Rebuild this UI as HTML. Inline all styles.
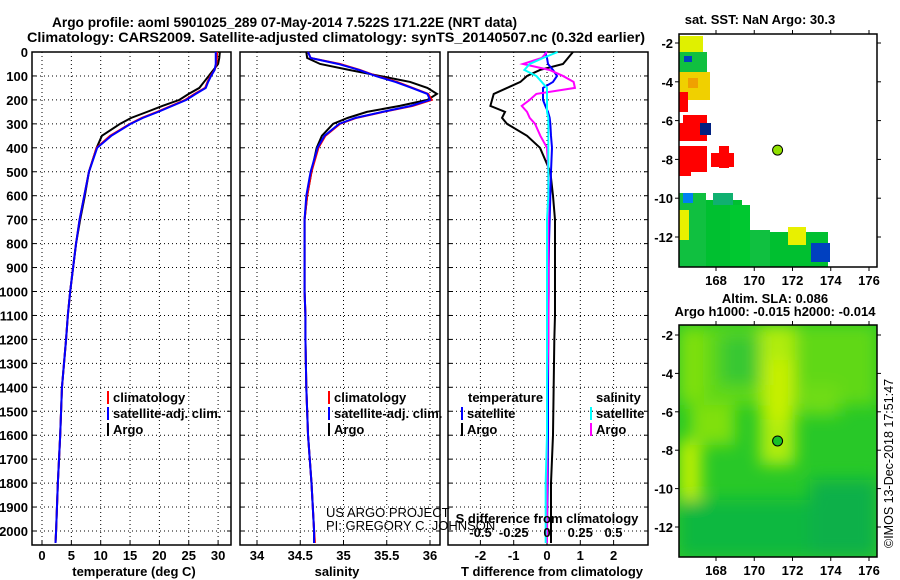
<!DOCTYPE html>
<html><head><meta charset="utf-8"><style>
body{margin:0;background:#fff;width:900px;height:580px;overflow:hidden}
svg{display:block;font-family:"Liberation Sans",sans-serif;font-weight:bold}
</style></head><body>
<svg id="c" width="900" height="580">
<text x="52" y="27" font-size="14" textLength="465" lengthAdjust="spacingAndGlyphs">Argo profile: aoml 5901025_289 07-May-2014 7.522S 171.22E (NRT data)</text>
<text x="27" y="42" font-size="14" textLength="618" lengthAdjust="spacingAndGlyphs">Climatology: CARS2009. Satellite-adjusted climatology: synTS_20140507.nc (0.32d earlier)</text>
<text x="760" y="24" font-size="13" text-anchor="middle">sat. SST: NaN Argo: 30.3</text>
<text x="775" y="303" font-size="13" text-anchor="middle">Altim. SLA: 0.086</text>
<text x="775" y="316" font-size="13" text-anchor="middle">Argo h1000: -0.015 h2000: -0.014</text>
<text transform="translate(893,548) rotate(-90)" font-size="12.5" font-weight="normal">©IMOS 13-Dec-2018 17:51:47</text>
<g id="plots"></g>
</svg>
<script>
const depths=[0,25,50,75,100,125,150,175,200,225,250,275,300,350,400,500,600,700,800,900,1000,1100,1200,1400,1600,1800,2000,2050];
const tArgo=[30.3,30.2,30.0,29.2,28.4,27.6,26.8,25.0,23.4,20.5,17.9,15.2,13.3,10.2,9.3,8.0,7.3,6.5,5.8,5.3,4.8,4.4,4.1,3.4,3.1,2.7,2.4,2.3];
const tClim=[29.8,29.8,29.7,29.4,28.7,28.2,27.8,26.0,24.4,22.0,19.6,17.0,15.0,11.6,9.3,8.0,7.2,6.4,5.8,5.3,4.8,4.4,4.1,3.4,3.1,2.7,2.4,2.3];
const tSat=[29.6,29.6,29.6,29.4,28.8,28.3,27.9,26.2,24.6,22.2,19.8,17.2,15.1,11.8,9.4,8.0,7.2,6.4,5.8,5.3,4.8,4.4,4.1,3.4,3.1,2.7,2.4,2.3];
const sArgo=[34.57,34.58,34.73,35.07,35.42,35.77,35.97,36.08,35.97,35.65,35.27,35.05,34.88,34.75,34.69,34.63,34.58,34.55,34.55,34.55,34.55,34.56,34.56,34.57,34.59,34.63,34.66,34.66];
const sClim=[34.59,34.62,34.96,35.19,35.38,35.62,35.80,35.98,36.02,35.80,35.46,35.15,34.96,34.79,34.71,34.63,34.58,34.55,34.55,34.55,34.55,34.56,34.56,34.57,34.59,34.63,34.66,34.67];
const sSat=[34.59,34.62,34.94,35.18,35.37,35.60,35.79,35.97,36.00,35.78,35.45,35.14,34.95,34.78,34.70,34.62,34.57,34.55,34.55,34.55,34.55,34.56,34.56,34.57,34.59,34.63,34.66,34.66];
const dtArgo=[0.78,0.63,0.48,-0.21,-0.6,-0.8,-1.2,-1.6,-1.65,-1.7,-1.26,-1.35,-1.2,-0.6,-0.21,0.1,0.18,0.24,0.24,0.24,0.24,0.24,0.22,0.2,0.18,0.12,0.12,0.12];
const dtSat=[-0.06,0.0,0.03,0.18,0.3,0.18,-0.12,-0.12,-0.12,-0.05,0.03,0.08,0.1,0.12,0.15,0.12,0.1,0.08,0.06,0.05,0.05,0.04,0.04,0.03,0.03,0.02,0.0,0.0];
const dsArgo=[0,-0.04,-0.18,0.02,0.12,0.2,0.21,-0.08,-0.13,-0.19,-0.15,-0.13,-0.09,-0.05,0,0.01,0.01,0.01,0.01,0.01,0.01,0.01,0.01,0.0,0.0,0.0,0.0,0.0];
const dsSat=[0.08,-0.03,-0.13,-0.17,-0.08,-0.04,0,0,0,0,0,0.01,0.01,0.01,0.01,0.01,0.01,0.0,0.0,0.0,0.0,0,0,0,0,-0.01,-0.01,-0.01];
const depthTicks=[0,100,200,300,400,500,600,700,800,900,1000,1100,1200,1300,1400,1500,1600,1700,1800,1900,2000];
const tempTicks=[0,5,10,15,20,25,30];
const salTicks=[34,34.5,35,35.5,36];
const dtTicks=[-2,-1,0,1,2];
const dsTicks=[-0.5,-0.25,0,0.25,0.5];

const NS='http://www.w3.org/2000/svg';
const root=document.getElementById('plots');
function mk(tag,attrs,parent){const e=document.createElementNS(NS,tag);for(const k in attrs)e.setAttribute(k,attrs[k]);(parent||root).appendChild(e);return e;}
const yD=d=>52+d*0.2395;
const PB=545;
const xT=v=>42+v*5.87;
const xS=v=>257+(v-34)*86.5;
const xDT=v=>547+v*33.3;
const xDS=v=>547+v*133;
function txt(g,x,y,s,opt){const t=mk('text',Object.assign({x:x,y:y,'font-size':13},opt||{}),g);t.textContent=s;return t;}

function panel(name,x0,x1,ticks,xf){
  const g=mk('g',{});
  
  
  ticks.forEach(t=>{const x=xf(t);mk('line',{x1:x,x2:x,y1:52,y2:PB,stroke:'#000','stroke-dasharray':'1,3'},g);
    mk('line',{x1:x,x2:x,y1:PB,y2:PB-4,stroke:'#000'},g);
    txt(g,x,560,String(t),{'text-anchor':'middle'});});
  depthTicks.forEach(d=>{const y=yD(d);mk('line',{x1:x0,x2:x1,y1:y,y2:y,stroke:'#000','stroke-dasharray':'1,3'},g);
    mk('line',{x1:x0,x2:x0+4,y1:y,y2:y,stroke:'#000'},g);mk('line',{x1:x1-4,x2:x1,y1:y,y2:y,stroke:'#000'},g);});
  mk('rect',{x:x0,y:52,width:x1-x0,height:PB-52,fill:'none',stroke:'#000','stroke-width':1.5},g);
  return g;
}
function line(g,vals,xf,color,name){
  const p=mk('polyline',{points:vals.map((v,i)=>xf(v)+','+yD(depths[i])).join(' '),fill:'none',stroke:color,'stroke-width':2},g);
  
  
}
function leg(g,x,y,color,label,name){
  const l=mk('g',{},g);
  
  
  mk('rect',{x:x,y:y-11,width:2,height:13,fill:color},l);
  txt(l,x+6,y,label,{'font-size':13});
}

// panel 1
const g1=panel('temperature-panel',32,231,tempTicks,xT);
depthTicks.forEach(d=>{txt(g1,28,yD(d)+5,String(d),{'text-anchor':'end'});});
line(g1,tArgo,xT,'#000','temperature-argo-line');
line(g1,tClim,xT,'#f00','temperature-climatology-line');
line(g1,tSat,xT,'#00f','temperature-satellite-line');
txt(g1,134,576,'temperature (deg C)',{'text-anchor':'middle'});
leg(g1,107,402,'#f00','climatology','legend-climatology');
leg(g1,107,418,'#00f','satellite-adj. clim.','legend-satellite');
leg(g1,107,434,'#000','Argo','legend-argo');

// panel 2
const g2=panel('salinity-panel',240,440,salTicks,xS);
line(g2,sArgo,xS,'#000','salinity-argo-line');
line(g2,sClim,xS,'#f00','salinity-climatology-line');
line(g2,sSat,xS,'#00f','salinity-satellite-line');
txt(g2,337,576,'salinity',{'text-anchor':'middle'});
leg(g2,328,402,'#f00','climatology','legend-climatology');
leg(g2,328,418,'#00f','satellite-adj. clim.','legend-satellite');
leg(g2,328,434,'#000','Argo','legend-argo');
txt(g2,326,517,'US ARGO PROJECT',{'font-weight':'normal'});
txt(g2,326,530,'PI: GREGORY C. JOHNSON',{'font-weight':'normal'});

// panel 3
const g3=panel('difference-panel',448,648,dtTicks,xDT);
line(g3,dtArgo,xDT,'#000','t-diff-argo-line');
line(g3,dtSat,xDT,'#00f','t-diff-satellite-line');
line(g3,dsArgo,xDS,'#f0f','s-diff-argo-line');
line(g3,dsSat,xDS,'#0ff','s-diff-satellite-line');
txt(g3,547,523,'S difference from climatology',{'text-anchor':'middle'});
dsTicks.forEach(t=>txt(g3,xDS(t),537,String(t),{'text-anchor':'middle'}));
txt(g3,552,576,'T difference from climatology',{'text-anchor':'middle'});
txt(g3,468,402,'temperature');
leg(g3,461,418,'#00f','satellite','legend-t-satellite');
leg(g3,461,434,'#000','Argo','legend-t-argo');
txt(g3,596,402,'salinity');
leg(g3,590,418,'#0ff','satellite','legend-s-satellite');
leg(g3,590,434,'#f0f','Argo','legend-s-argo');

// maps
const lonTicks=[168,170,172,174,176];
const latTicks=[-2,-4,-6,-8,-10,-12];
const mx=lon=>716+(lon-168)*19.125;
const myA=lat=>43+(-2-lat)*19.4;
const myB=lat=>335+(-2-lat)*19.2;
function axes(g,top,bot,myf,labY){
  mk('rect',{x:679,y:top,width:198,height:bot-top,fill:'none',stroke:'#000','stroke-width':1.5},g);
  lonTicks.forEach(l=>{const x=mx(l);mk('line',{x1:x,x2:x,y1:top,y2:top-4,stroke:'#000'},g);mk('line',{x1:x,x2:x,y1:bot,y2:bot+4,stroke:'#000'},g);txt(g,x,labY,String(l),{'text-anchor':'middle'});});
  latTicks.forEach(l=>{const y=myf(l);mk('line',{x1:675,x2:679,y1:y,y2:y,stroke:'#000'},g);mk('line',{x1:877,x2:881,y1:y,y2:y,stroke:'#000'},g);txt(g,673,y+5,String(l),{'text-anchor':'end'});});
}
// SST map
const gA=mk('g',{});


const patches=[[679,36,24,16,'#e0f000'],[679,52,28,20,'#10c040'],[684,56,8,6,'#0040c0'],[679,72,31,28,'#f0d000'],[688,78,10,10,'#f0a000'],
[679,92,9,20,'#f00'],[683,115,24,25,'#f00'],[679,123,28,18,'#f00'],[700,123,11,12,'#002080'],[679,146,28,26,'#f00'],[679,168,12,8,'#f00'],[711,153,23,14,'#f00'],[719,146,10,22,'#f00'],
[679,193,27,74,'#10c040'],[706,200,36,67,'#00c030'],[713,193,20,12,'#10b070'],[730,205,20,62,'#00c830'],[750,230,20,37,'#10c040'],[770,232,58,35,'#00c030'],[788,227,18,18,'#e8f000'],[811,243,19,19,'#0040c0'],[679,210,10,30,'#e8f000'],[683,193,10,10,'#0080f0']];
patches.forEach(p=>mk('rect',{x:p[0],y:p[1],width:p[2],height:p[3],fill:p[4]},gA));
mk('circle',{cx:mx(171.22),cy:myA(-7.52),r:5,fill:'#90e000',stroke:'#000'},gA);
axes(gA,34,267,myA,285);
// SLA map
const gB=mk('g',{});


const defs=mk('defs',{},gB);
const f=mk('filter',{id:'bl',x:'-50%',y:'-50%',width:'200%',height:'200%'},defs);
mk('feGaussianBlur',{stdDeviation:8},f);
const cp=mk('clipPath',{id:'cpB'},defs);
mk('rect',{x:679,y:325,width:198,height:232},cp);
const gBi=mk('g',{'clip-path':'url(#cpB)'},gB);
mk('rect',{x:679,y:325,width:198,height:232,fill:'#28c828'},gBi);
const gBb=mk('g',{filter:'url(#bl)'},gBi);
[[679,325,198,80,'#60d818'],[760,325,35,140,'#b0ec10'],[768,360,24,60,'#c8f000'],[679,330,25,70,'#80e010'],[679,440,22,60,'#c0f000'],[690,405,45,40,'#80e010'],[800,385,40,30,'#70dc18'],[720,335,40,50,'#38c830'],[679,500,198,57,'#10b840'],[810,480,67,77,'#08b048']].forEach(p=>mk('rect',{x:p[0],y:p[1],width:p[2],height:p[3],fill:p[4]},gBb));
mk('circle',{cx:mx(171.22),cy:myB(-7.52),r:5,fill:'#18c028',stroke:'#000'},gB);
axes(gB,325,557,myB,575);
</script>
</body></html>
